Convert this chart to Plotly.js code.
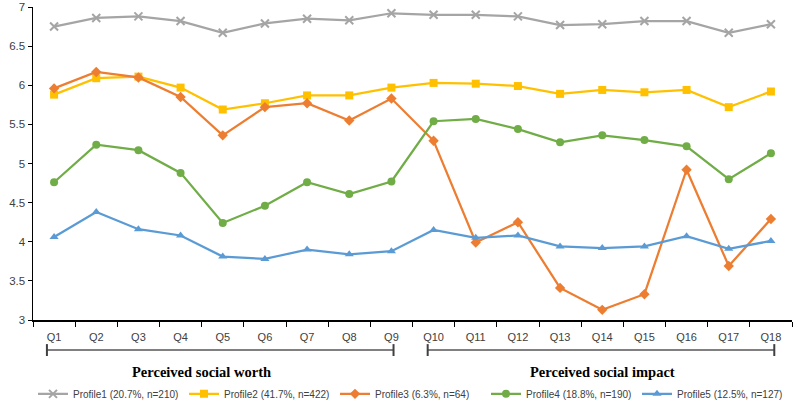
<!DOCTYPE html>
<html>
<head>
<meta charset="utf-8">
<script src="https://cdn.plot.ly/plotly-3.0.1.min.js"></script>
<style>html,body{margin:0;padding:0;background:#fff;}#chart{width:798px;height:406px;}</style>
</head>
<body>
<div id="chart"></div>
<script>
const categories = ["Q1","Q2","Q3","Q4","Q5","Q6","Q7","Q8","Q9","Q10","Q11","Q12","Q13","Q14","Q15","Q16","Q17","Q18"];
const seriesNames = ["Profile1 (20.7%, n=210)","Profile2 (41.7%, n=422)","Profile3 (6.3%, n=64)","Profile4 (18.8%, n=190)","Profile5 (12.5%, n=127)"];
const profile1 = [6.75,6.86,6.88,6.82,6.67,6.79,6.85,6.83,6.92,6.90,6.90,6.88,6.77,6.78,6.82,6.82,6.67,6.78];
const profile2 = [5.88,6.09,6.11,5.97,5.69,5.77,5.87,5.87,5.97,6.03,6.02,5.99,5.89,5.94,5.91,5.94,5.72,5.92];
const profile3 = [5.96,6.17,6.10,5.85,5.36,5.72,5.77,5.55,5.83,5.29,3.99,4.25,3.41,3.13,3.33,4.92,3.69,4.29];
const profile4 = [4.76,5.24,5.17,4.88,4.24,4.46,4.76,4.61,4.77,5.54,5.57,5.44,5.27,5.36,5.30,5.22,4.80,5.13];
const profile5 = [4.06,4.38,4.16,4.08,3.81,3.78,3.90,3.84,3.88,4.15,4.05,4.08,3.94,3.92,3.94,4.07,3.91,4.01];
const groupLabels = ["Perceived social worth","Perceived social impact"];

const colors = ["#A5A5A5","#FFC000","#ED7D31","#70AD47","#5B9BD5"];
const symbols = ["x-thin","square","diamond","circle","triangle-up"];
const sizes = [8,8,8,8,8];
const data = [profile1,profile2,profile3,profile4,profile5];

const traces = data.map((ys,i)=>({
  type:"scatter", mode:"lines+markers",
  x: categories, y: ys, name: seriesNames[i],
  line:{color:colors[i], width:2.25},
  marker:{symbol:symbols[i], size:sizes[i], color:colors[i], line:{color:colors[i], width: i===0?2:0}}
}));

const sh = [];
function bracket(x0,x1){
  sh.push({type:"line", xref:"x", yref:"paper", x0:x0, x1:x1, y0:-0.096, y1:-0.096, line:{color:"#808080", width:2}});
  sh.push({type:"line", xref:"x", yref:"paper", x0:x0, x1:x0, y0:-0.077, y1:-0.115, line:{color:"#404040", width:2}});
  sh.push({type:"line", xref:"x", yref:"paper", x0:x1, x1:x1, y0:-0.077, y1:-0.115, line:{color:"#404040", width:2}});
}
bracket(-0.17, 8.05);
bracket(8.86, 17.08);

const layout = {
  width:798, height:406,
  margin:{l:33, r:6, t:7, b:86, autoexpand:false},
  paper_bgcolor:"#fff", plot_bgcolor:"#fff",
  showlegend:true,
  font:{family:"Liberation Sans, Arial, sans-serif", color:"#404040"},
  xaxis:{type:"category", range:[-0.5,17.5], showline:true, linecolor:"#000", linewidth:1.5,
    ticks:"outside", ticklen:5, tickcolor:"#000", tickson:"boundaries", showgrid:false, zeroline:false,
    ticklabelstandoff:6, tickfont:{size:11, color:"#404040"}},
  yaxis:{range:[3,7], dtick:0.5, showline:true, linecolor:"#000", linewidth:1.5, ticks:"outside", ticklen:4,
    tickcolor:"#000", showgrid:false, zeroline:false, tickfont:{size:11.5, color:"#404040"}},
  legend:{orientation:"h", x:0.0, xanchor:"left", y:-0.236, yanchor:"middle",
    font:{family:"Liberation Sans, Arial, sans-serif", size:10, color:"#404040"},
    entrywidth:106, entrywidthmode:"pixels", itemwidth:30, traceorder:"normal"},
  shapes: sh,
  annotations:[
    {xref:"x", yref:"paper", x:3.5, y:-0.165, yanchor:"middle", text:"<b>"+groupLabels[0]+"</b>", showarrow:false,
     font:{family:"Liberation Serif, Times New Roman, serif", size:14.5, color:"#000"}},
    {xref:"x", yref:"paper", x:13, y:-0.165, yanchor:"middle", text:"<b>"+groupLabels[1]+"</b>", showarrow:false,
     font:{family:"Liberation Serif, Times New Roman, serif", size:14.5, color:"#000"}}
  ]
};
Plotly.newPlot("chart", traces, layout, {displayModeBar:false, staticPlot:true});
</script>
</body>
</html>
